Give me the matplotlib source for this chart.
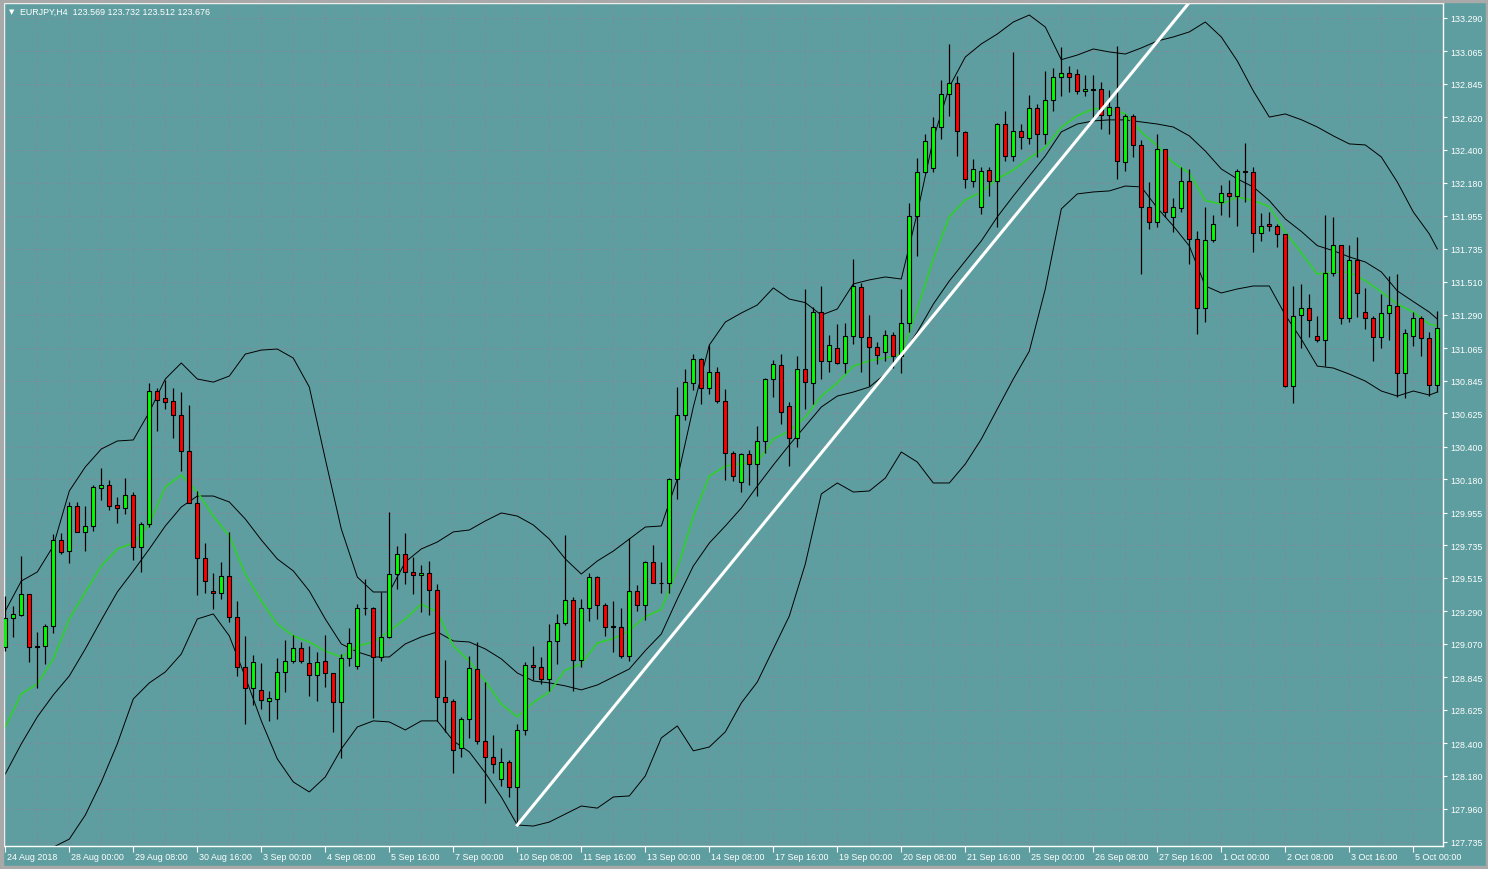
import matplotlib
matplotlib.use('Agg')
import matplotlib.pyplot as plt
from matplotlib.patches import Rectangle

plt.rcParams['font.family'] = ['Liberation Sans', 'DejaVu Sans']

# EURJPY H4 candles (bar 0 = 24 Aug 2018 16:00)
opens = [129.049, 129.245, 129.265, 129.407, 129.056, 129.056, 129.191, 129.771, 129.697, 130.000,
         129.825, 129.865, 130.121, 130.141, 130.007, 129.987, 130.074, 129.724, 129.878, 130.775,
         130.728, 130.708, 130.613, 130.370, 130.020, 129.650, 129.427, 129.413, 129.528, 129.252,
         128.915, 128.773, 128.759, 128.685, 128.699, 128.881, 128.955, 129.043, 128.941, 128.861,
         128.955, 128.874, 128.679, 128.975, 128.921, 129.313, 129.313, 128.982, 129.117, 129.541,
         129.677, 129.555, 129.535, 129.548, 129.434, 128.712, 128.685, 128.369, 128.564, 128.901,
         128.416, 128.308, 128.159, 128.277, 128.105, 128.490, 128.928, 128.915, 128.834, 129.090,
         129.214, 129.366, 128.962, 129.313, 129.521, 129.333, 129.190, 129.184, 128.989, 129.427,
         129.333, 129.625, 129.484, 129.484, 130.182, 130.613, 130.829, 130.990, 130.792, 130.903,
         130.709, 130.357, 130.163, 130.350, 130.283, 130.439, 130.856, 130.950, 130.672, 130.456,
         130.924, 130.827, 131.310, 130.975, 131.063, 130.962, 131.144, 131.474, 131.137, 131.074,
         131.040, 131.153, 131.009, 131.232, 131.953, 132.250, 132.277, 132.557, 132.776, 132.850,
         132.519, 132.193, 132.014, 132.263, 132.193, 132.575, 132.358, 132.526, 132.479, 132.681,
         132.506, 132.737, 132.890, 132.917, 132.910, 132.796, 132.808, 132.811, 132.638, 132.688,
         132.321, 132.627, 132.434, 132.014, 131.913, 132.405, 131.946, 132.007, 132.193, 131.800,
         131.333, 131.793, 132.047, 132.108, 132.088, 132.256, 132.250, 131.838, 131.899, 131.886,
         131.832, 130.811, 131.290, 131.337, 131.144, 131.117, 131.569, 131.757, 131.265, 131.660,
         131.306, 131.265, 131.137, 131.299, 131.346, 130.895, 131.144, 131.265, 131.130, 130.818]
highs = [129.393, 129.326, 129.663, 129.407, 129.151, 129.204, 129.811, 129.818, 130.027, 130.027,
         130.000, 130.141, 130.256, 130.175, 130.061, 130.188, 130.094, 129.892, 130.829, 130.795,
         130.849, 130.795, 130.768, 130.681, 130.101, 129.750, 129.548, 129.622, 129.825, 129.360,
         129.124, 128.996, 128.941, 128.753, 128.975, 129.097, 129.130, 129.083, 129.056, 129.016,
         129.130, 128.874, 129.002, 129.178, 129.339, 129.508, 129.320, 129.420, 129.959, 129.730,
         129.818, 129.656, 129.602, 129.629, 129.474, 128.962, 128.699, 128.578, 128.989, 129.083,
         128.813, 128.456, 128.369, 128.285, 128.530, 128.948, 129.056, 128.982, 129.204, 129.272,
         129.804, 129.387, 129.373, 129.548, 129.528, 129.349, 129.360, 129.309, 129.784, 129.467,
         129.630, 129.737, 129.622, 130.187, 130.802, 130.924, 131.024, 130.997, 131.088, 130.934,
         130.789, 130.369, 130.354, 130.379, 130.541, 130.861, 130.984, 131.024, 130.703, 131.009,
         131.463, 131.339, 131.481, 131.153, 131.227, 131.234, 131.665, 131.503, 131.288, 131.104,
         131.186, 131.175, 131.463, 132.043, 132.344, 132.506, 132.625, 132.872, 133.115, 132.901,
         132.530, 132.339, 132.283, 132.285, 132.582, 132.663, 133.059, 132.575, 132.771, 132.710,
         132.933, 132.953, 133.094, 132.966, 132.946, 132.906, 132.906, 132.858, 132.805, 133.101,
         132.643, 132.643, 132.467, 132.184, 132.508, 132.407, 132.076, 132.285, 132.272, 131.856,
         132.018, 131.962, 132.164, 132.198, 132.272, 132.447, 132.283, 131.975, 131.980, 131.899,
         131.832, 131.481, 131.495, 131.429, 131.279, 131.962, 131.950, 131.757, 131.759, 131.811,
         131.468, 131.279, 131.429, 131.553, 131.564, 131.193, 131.306, 131.283, 131.171, 131.315]
lows = [129.022, 129.117, 129.258, 128.948, 128.773, 128.935, 129.144, 129.677, 129.616, 129.825,
        129.697, 129.831, 130.040, 129.973, 129.885, 129.946, 129.636, 129.555, 129.858, 130.506,
        130.654, 130.458, 130.236, 130.020, 129.400, 129.413, 129.306, 129.373, 129.218, 128.854,
        128.530, 128.658, 128.631, 128.550, 128.564, 128.746, 128.941, 128.941, 128.719, 128.685,
        128.780, 128.476, 128.301, 128.921, 128.901, 129.265, 128.571, 128.955, 129.110, 129.440,
        129.474, 129.407, 129.285, 129.265, 128.550, 128.476, 128.200, 128.308, 128.436, 128.396,
        127.997, 128.200, 128.112, 128.038, 127.849, 128.456, 128.827, 128.800, 128.753, 128.935,
        129.198, 128.753, 128.915, 129.225, 129.238, 129.124, 129.016, 128.975, 128.952, 129.292,
        129.231, 129.480, 129.413, 129.413, 130.047, 130.580, 130.785, 130.690, 130.757, 130.693,
        130.175, 130.167, 130.096, 130.141, 130.070, 130.357, 130.737, 130.553, 130.272, 130.396,
        130.654, 130.688, 130.856, 130.905, 130.957, 130.895, 131.092, 130.901, 130.811, 130.957,
        130.979, 130.928, 130.895, 131.171, 131.687, 132.245, 132.250, 132.474, 132.631, 132.361,
        132.142, 132.149, 131.968, 132.092, 131.879, 132.326, 132.326, 132.407, 132.440, 132.353,
        132.440, 132.663, 132.764, 132.791, 132.778, 132.764, 132.609, 132.542, 132.508, 132.205,
        132.258, 132.353, 131.564, 131.867, 131.881, 131.948, 131.847, 131.982, 131.631, 131.159,
        131.242, 131.778, 131.962, 131.950, 131.890, 132.047, 131.714, 131.789, 131.856, 131.744,
        130.800, 130.692, 131.063, 131.137, 131.108, 130.946, 131.553, 131.227, 131.238, 131.272,
        131.193, 130.979, 131.063, 131.121, 130.733, 130.726, 131.081, 131.013, 130.744, 130.766]
closes = [129.245, 129.272, 129.407, 129.049, 129.049, 129.191, 129.771, 129.690, 130.000, 129.825,
          129.865, 130.128, 130.141, 130.000, 129.987, 130.074, 129.724, 129.878, 130.775, 130.714,
          130.701, 130.613, 130.370, 130.020, 129.650, 129.494, 129.413, 129.528, 129.252, 128.915,
          128.773, 128.948, 128.692, 128.706, 128.881, 128.955, 129.043, 128.955, 128.861, 128.948,
          128.874, 128.679, 128.975, 129.076, 129.313, 129.310, 128.982, 129.117, 129.541, 129.677,
          129.555, 129.535, 129.548, 129.434, 128.712, 128.679, 128.355, 128.564, 128.908, 128.416,
          128.308, 128.261, 128.277, 128.105, 128.490, 128.928, 128.915, 128.834, 129.090, 129.214,
          129.366, 128.962, 129.313, 129.521, 129.333, 129.184, 129.184, 128.989, 129.427, 129.333,
          129.625, 129.484, 129.480, 130.182, 130.613, 130.833, 130.990, 130.792, 130.903, 130.709,
          130.357, 130.203, 130.350, 130.283, 130.439, 130.856, 130.957, 130.632, 130.456, 130.924,
          130.834, 131.310, 130.975, 131.085, 130.962, 131.144, 131.481, 131.137, 131.074, 131.018,
          131.153, 131.009, 131.232, 131.953, 132.250, 132.459, 132.557, 132.776, 132.850, 132.526,
          132.205, 132.270, 132.256, 132.193, 132.575, 132.358, 132.526, 132.486, 132.681, 132.506,
          132.737, 132.890, 132.917, 132.894, 132.796, 132.811, 132.806, 132.638, 132.688, 132.328,
          132.627, 132.434, 132.014, 131.913, 132.405, 131.980, 132.014, 132.193, 131.800, 131.333,
          131.793, 131.899, 132.108, 132.088, 132.256, 132.252, 131.838, 131.886, 131.886, 131.832,
          130.811, 131.283, 131.337, 131.252, 131.117, 131.569, 131.757, 131.265, 131.660, 131.434,
          131.265, 131.137, 131.299, 131.353, 130.895, 131.164, 131.269, 131.130, 130.818, 131.202]

# indicator lines, read every second bar (plus the last one)
band_bars = list(range(0, 180, 2)) + [179]
ma_line = [128.510, 128.733, 128.800, 128.969, 129.238, 129.420, 129.595, 129.710, 129.750, 129.878,
           130.128, 130.209, 130.094, 129.932, 129.798, 129.541, 129.360, 129.204, 129.124, 129.083,
           129.022, 128.982, 129.056, 129.083, 129.157, 129.238, 129.339, 129.285, 129.056, 128.955,
           128.820, 128.665, 128.578, 128.675, 128.746, 128.894, 128.935, 129.076, 129.106, 129.160,
           129.255, 129.302, 129.575, 129.929, 130.202, 130.269, 130.286, 130.296, 130.451, 130.505,
           130.600, 130.741, 130.829, 130.943, 130.979, 130.999, 131.024, 131.328, 131.666, 131.949,
           132.063, 132.117, 132.205, 132.265, 132.344, 132.418, 132.553, 132.631, 132.677, 132.682,
           132.643, 132.520, 132.429, 132.313, 132.245, 132.059, 132.036, 132.083, 132.059, 132.019,
           131.846, 131.706, 131.564, 131.576, 131.576, 131.519, 131.443, 131.361, 131.307, 131.226,
           131.213]
bb_mid = [128.193, 128.396, 128.578, 128.726, 128.854, 129.036, 129.231, 129.420, 129.562, 129.710,
          129.865, 129.993, 130.067, 130.067, 130.027, 129.912, 129.771, 129.643, 129.562, 129.427,
          129.238, 129.070, 129.016, 128.982, 128.982, 129.070, 129.117, 129.151, 129.090, 129.083,
          129.036, 128.969, 128.874, 128.820, 128.807, 128.787, 128.760, 128.793, 128.847, 128.901,
          129.025, 129.137, 129.373, 129.595, 129.750, 129.865, 129.986, 130.134, 130.276, 130.411,
          130.539, 130.667, 130.741, 130.768, 130.802, 130.889, 131.011, 131.173, 131.361, 131.517,
          131.652, 131.787, 131.949, 132.090, 132.225, 132.360, 132.522, 132.575, 132.596, 132.603,
          132.603, 132.589, 132.575, 132.555, 132.495, 132.393, 132.272, 132.205, 132.151, 132.059,
          131.935, 131.851, 131.755, 131.721, 131.679, 131.645, 131.578, 131.450, 131.378, 131.307,
          131.260]
bb_upper = [129.292, 129.494, 129.555, 129.730, 130.101, 130.263, 130.384, 130.438, 130.445, 130.633,
            130.856, 130.964, 130.856, 130.835, 130.876, 131.024, 131.051, 131.058, 130.997, 130.802,
            130.316, 129.845, 129.521, 129.420, 129.420, 129.622, 129.710, 129.757, 129.825, 129.838,
            129.899, 129.953, 129.932, 129.872, 129.777, 129.643, 129.541, 129.629, 129.696, 129.777,
            129.858, 129.865, 130.182, 130.667, 131.085, 131.240, 131.301, 131.355, 131.470, 131.395,
            131.371, 131.287, 131.328, 131.497, 131.524, 131.544, 131.530, 131.976, 132.474, 132.825,
            133.027, 133.115, 133.182, 133.263, 133.310, 133.229, 133.009, 133.040, 133.081, 133.061,
            133.047, 133.088, 133.135, 133.162, 133.196, 133.263, 133.162, 133.000, 132.798, 132.622,
            132.643, 132.604, 132.555, 132.495, 132.441, 132.434, 132.353, 132.184, 131.982, 131.834,
            131.733]
bb_lower = [127.094, 127.296, 127.599, 127.700, 127.754, 127.916, 128.139, 128.396, 128.699, 128.807,
            128.881, 129.002, 129.238, 129.272, 129.124, 128.847, 128.551, 128.295, 128.139, 128.072,
            128.173, 128.362, 128.510, 128.551, 128.544, 128.490, 128.551, 128.551, 128.416, 128.342,
            128.200, 128.038, 127.849, 127.842, 127.869, 127.923, 127.977, 127.963, 128.038, 128.045,
            128.180, 128.436, 128.517, 128.349, 128.375, 128.477, 128.672, 128.813, 129.036, 129.258,
            129.609, 130.081, 130.155, 130.094, 130.101, 130.188, 130.364, 130.296, 130.155, 130.155,
            130.283, 130.451, 130.654, 130.856, 131.044, 131.463, 132.003, 132.104, 132.117, 132.124,
            132.157, 132.151, 132.009, 131.888, 131.753, 131.483, 131.436, 131.463, 131.483, 131.483,
            131.287, 131.125, 130.943, 130.930, 130.889, 130.842, 130.775, 130.741, 130.775, 130.748,
            130.768]

# hand-drawn trend line
trend_bars = [64, 149]
trend_prices = [127.849, 133.461]

price_ticks = [133.290, 133.065, 132.845, 132.620, 132.400, 132.180, 131.955, 131.735, 131.510,
               131.290, 131.065, 130.845, 130.625, 130.400, 130.180, 129.955, 129.735, 129.515,
               129.290, 129.070, 128.845, 128.625, 128.400, 128.180, 127.960, 127.735]
date_bars = list(range(0, 180, 8))
date_labels = ['24 Aug 2018', '28 Aug 00:00', '29 Aug 08:00', '30 Aug 16:00', '3 Sep 00:00',
               '4 Sep 08:00', '5 Sep 16:00', '7 Sep 00:00', '10 Sep 08:00', '11 Sep 16:00',
               '13 Sep 00:00', '14 Sep 08:00', '17 Sep 16:00', '19 Sep 00:00', '20 Sep 08:00',
               '21 Sep 16:00', '25 Sep 00:00', '26 Sep 08:00', '27 Sep 16:00', '1 Oct 00:00',
               '2 Oct 08:00', '3 Oct 16:00', '5 Oct 00:00']
header = 'EURJPY,H4  123.569 123.732 123.512 123.676'

bg = '#5f9ea0'
grid_c = '#7d8a9a'
W, H = 1488, 870

fig = plt.figure(figsize=(W / 100, H / 100), dpi=100, facecolor=bg)
ax = fig.add_axes([4 / W, 1 - 847 / H, 1439 / W, 843 / H], facecolor=bg)
ax.set_xlim(-0.1625, 179.71)
ax.set_ylim(127.7075, 133.391)

# grid
for p in price_ticks:
    ax.axhline(p, color=grid_c, lw=0.7, ls=(0, (3, 3)), zorder=0)
for b in range(4, 180, 4):
    ax.axvline(b, color=grid_c, lw=0.7, ls=(0, (3, 3)), zorder=0)

# bands and moving average
ax.plot(band_bars, bb_upper, color='black', lw=0.7, zorder=2)
ax.plot(band_bars, bb_mid, color='black', lw=0.7, zorder=2)
ax.plot(band_bars, bb_lower, color='black', lw=0.7, zorder=2)
ax.plot(band_bars, ma_line, color='#32cd32', lw=1.3, zorder=2)

# candles
body_w = 0.5
for i in range(len(opens)):
    o, h, l, c = opens[i], highs[i], lows[i], closes[i]
    ax.vlines(i, l, h, color='black', lw=0.9, zorder=3)
    col = '#00ff00' if c >= o else '#ff0000'
    ax.add_patch(Rectangle((i - body_w / 2, min(o, c)), body_w, max(abs(c - o), 0.001),
                           facecolor=col, edgecolor='black', lw=0.8, zorder=4))

ax.plot(trend_bars, trend_prices, color='white', lw=2.2, zorder=5)

# frame and axes
for s in ax.spines.values():
    s.set_color('white')
    s.set_linewidth(1.0)

ax.yaxis.tick_right()
ax.set_yticks(price_ticks)
ax.set_yticklabels([f'{p:.3f}' for p in price_ticks])
ax.tick_params(axis='y', colors='white', length=3, width=0.8, pad=2, labelsize=6.4)

ax.set_xticks(date_bars)
ax.set_xticklabels([])
ax.tick_params(axis='x', colors='white', length=4, width=0.8)
for b, lab in zip(date_bars, date_labels):
    ax.annotate(lab, xy=(b, 0), xycoords=('data', 'axes fraction'), xytext=(1, -7.3),
                textcoords='offset points', ha='left', va='center', color='white', fontsize=6.4)

fig.text(9 / W, 1 - 12 / H, '\u25bc', family='DejaVu Sans', fontsize=5, color='white',
         ha='left', va='center')
fig.text(20 / W, 1 - 12 / H, header, color='white', fontsize=6.4, ha='left', va='center')

# window border
edge = '#a9a9a9'
fig.patches.append(Rectangle((0, 1 - 3 / H), 1, 3 / H, transform=fig.transFigure, color=edge))
fig.patches.append(Rectangle((0, 0), 3 / W, 1, transform=fig.transFigure, color=edge))
fig.patches.append(Rectangle((0, 0), 1, 3 / H, transform=fig.transFigure, color=edge))
fig.patches.append(Rectangle((1 - 2 / W, 0), 2 / W, 1, transform=fig.transFigure, color=edge))

fig.savefig('out.png', dpi=100, facecolor=bg)
